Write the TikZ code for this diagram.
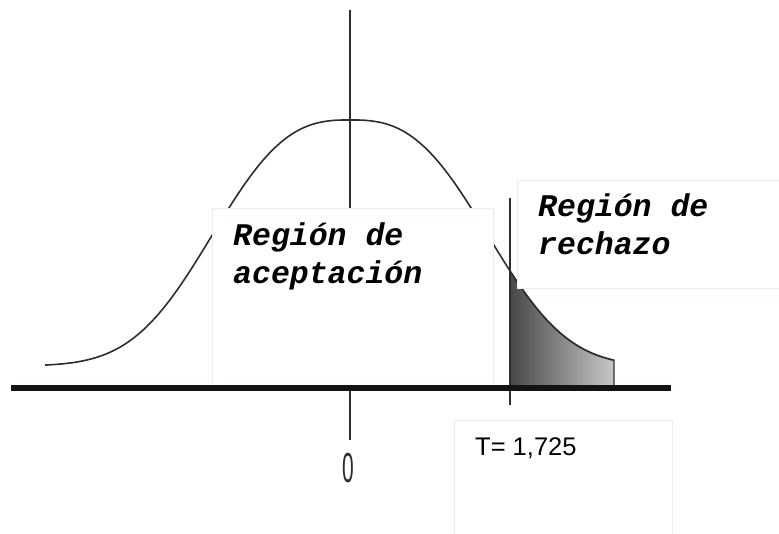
\documentclass[tikz,border=0pt]{standalone}
\usepackage{fontspec}
\setmainfont{Liberation Sans}
\newfontfamily\monof{Liberation Mono}
\definecolor{boxline}{RGB}{226,239,250}
\definecolor{ink}{RGB}{45,45,45}
\definecolor{axisink}{RGB}{22,18,14}
\definecolor{shadeL}{RGB}{72,72,72}
\definecolor{shadeR}{RGB}{200,200,200}
\tikzset{
  whitebox/.style={draw=boxline, line width=1pt, fill=white, inner sep=0pt, anchor=north west},
  monolabel/.style={font=\monof\bfseries\itshape\fontsize{31.5}{38.5}\selectfont, inner sep=0pt, align=left, anchor=base west},
  curveline/.style={draw=ink, line width=1.6pt},
}
\begin{document}
\begin{tikzpicture}[x=1pt,y=-1pt]
\useasboundingbox (0,0) rectangle (779,534);
% shaded rejection region
\shade[left color=shadeL, right color=shadeR, draw=ink, line width=1.2pt]
  (510,{366-246*exp(-((510-350)/163)^2.74)})
  plot[domain=510:614, samples=40] (\x,{366-246*exp(-((\x-350)/163)^2.74)})
  -- (614,387) -- (510,387) -- cycle;
% density curve
\draw[curveline, smooth] plot[domain=45:614, samples=160] (\x,{366-246*exp(-(abs(\x-350)/163)^2.74)});
% axes
\coordinate (vtop) at (350,10);
\coordinate (vbot) at (350,440);
\draw[ink, line width=1.6pt] (vtop) -- (vbot);
\coordinate (ttop) at (510,198);
\coordinate (tbot) at (510,405);
\draw[ink, line width=1.5pt] (ttop) -- (tbot);
% boxes
\node[whitebox, minimum width=281pt, minimum height=177pt] (accbox) at (212,208) {};
\node[whitebox, minimum width=270pt, minimum height=108pt] (rejbox) at (517,180) {};
\node[whitebox, minimum width=218pt, minimum height=120pt] (tbox) at (454,420) {};
% horizontal axis
\coordinate (hleft) at (11,388);
\coordinate (hright) at (671,388);
\draw[axisink, line width=5.5pt] (hleft) -- (hright);
% texts
\node[monolabel] (acctxt) at (233,284) {Región de\\aceptación};
\node[monolabel] (rejtxt) at (538,255) {Región de\\rechazo};
\node[anchor=base west, inner sep=0pt, font=\fontsize{25.5}{30}\selectfont] (tval) at (475,455) {T= 1,725};
\node[inner sep=0pt, xscale=0.5, text=ink, font=\fontsize{42}{42}\selectfont] (zero) at (348,468) {0};
\end{tikzpicture}
\end{document}
